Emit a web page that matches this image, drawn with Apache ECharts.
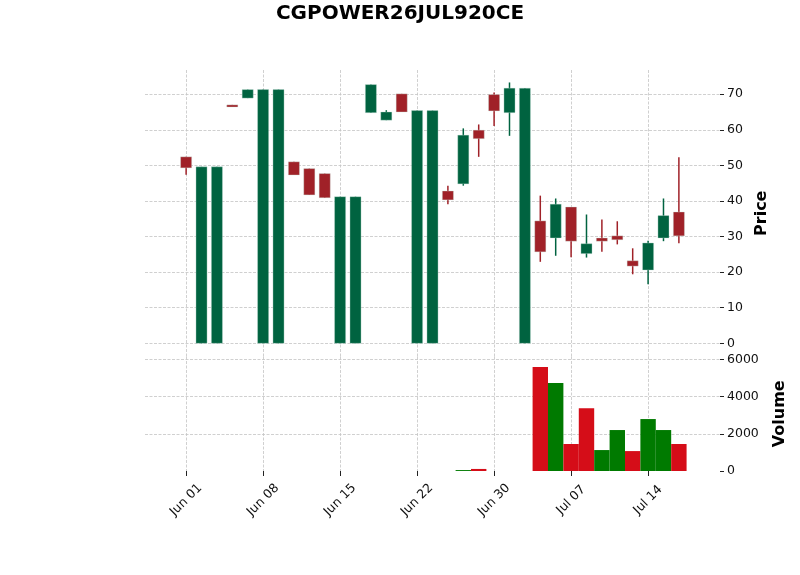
<!DOCTYPE html>
<html>
<head>
<meta charset="utf-8">
<title>CGPOWER26JUL920CE</title>
<script src="https://cdn.jsdelivr.net/npm/echarts@6/dist/echarts.min.js"></script>
<style>
  html, body { margin: 0; padding: 0; background: #fff; }
  #chart { width: 800px; height: 575px; }
</style>
</head>
<body>
<div id="chart"></div>
<script>
// trading days, one candle each
const dates = [
  'Jun 01', 'Jun 02', 'Jun 03', 'Jun 04', 'Jun 05',
  'Jun 08', 'Jun 09', 'Jun 10', 'Jun 11', 'Jun 12',
  'Jun 15', 'Jun 16', 'Jun 17', 'Jun 18', 'Jun 19',
  'Jun 22', 'Jun 23', 'Jun 24', 'Jun 25', 'Jun 26',
  'Jun 30', 'Jul 01', 'Jul 02', 'Jul 03', 'Jul 06',
  'Jul 07', 'Jul 08', 'Jul 09', 'Jul 10', 'Jul 13',
  'Jul 14', 'Jul 15', 'Jul 16',
]
const opens = [
  52.4, 0, 0, 67.0, 68.9, 0, 0, 51.0, 49.1, 47.7,
  0, 0, 64.8, 62.7, 70.1, 0, 0, 42.8, 44.8, 59.9,
  69.9, 64.8, 0, 34.4, 29.6, 38.3, 25.2, 29.6, 30.2, 23.2,
  20.6, 29.6, 36.9,
]
const highs = [
  52.4, 49.6, 49.6, 67.0, 71.3, 71.3, 71.3, 51.0, 49.1, 47.7,
  41.2, 41.2, 72.7, 65.5, 70.1, 65.4, 65.4, 44.3, 60.4, 61.5,
  70.5, 73.3, 71.7, 41.5, 40.7, 38.3, 36.2, 34.8, 34.3, 26.7,
  28.8, 40.7, 52.3,
]
const lows = [
  47.4, 0, 0, 66.4, 68.9, 0, 0, 47.3, 41.7, 40.9,
  0, 0, 64.8, 62.7, 65.0, 0, 0, 39.1, 44.3, 52.4,
  61.1, 58.3, 0, 22.9, 24.6, 24.2, 24.1, 25.7, 27.8, 19.4,
  16.6, 28.7, 28.1,
]
const closes = [
  49.3, 49.6, 49.6, 66.4, 71.3, 71.3, 71.3, 47.3, 41.7, 40.9,
  41.2, 41.2, 72.7, 65.0, 65.0, 65.4, 65.4, 40.3, 58.5, 57.5,
  65.3, 71.7, 71.7, 25.7, 39.1, 28.7, 28.0, 28.7, 29.1, 21.7,
  28.2, 35.9, 30.2,
]
const volumes = [
  0, 0, 0, 0, 0, 0, 0, 0, 0, 0,
  0, 0, 0, 0, 0, 0, 0, 0, 50, 110,
  0, 0, 0, 5590, 4730, 1450, 3375, 1125, 2200, 1070,
  2790, 2200, 1450,
]
const xTickIdx = [0, 5, 10, 15, 20, 25, 30]
const priceTicks = [0, 10, 20, 30, 40, 50, 60, 70]
const volumeTicks = [0, 2000, 4000, 6000]

const upColor = '#006340'
const downColor = '#a02128'
const volUp = '#007a00'
const volDown = '#d50d18'
const font = 'DejaVu Sans'

const candleData = dates.map((d, i) => [i, opens[i], closes[i], lows[i], highs[i]])
// volume colour follows close vs previous close
const volumeData = dates.map((d, i) => [
  i,
  volumes[i],
  i === 0 || closes[i] >= closes[i - 1] ? 1 : 0,
])

function renderCandle(params, api) {
  const i = api.value(0)
  const o = api.value(1)
  const c = api.value(2)
  const color = c >= o ? upColor : downColor
  const w = api.size([1, 0])[0] * 0.72
  const pO = api.coord([i, o])
  const pC = api.coord([i, c])
  const pL = api.coord([i, api.value(3)])
  const pH = api.coord([i, api.value(4)])
  const top = Math.min(pO[1], pC[1])
  const h = Math.max(Math.abs(pO[1] - pC[1]), 1.5)
  return {
    type: 'group',
    children: [
      {
        type: 'line',
        shape: { x1: pH[0], y1: pH[1], x2: pL[0], y2: pL[1] },
        style: { stroke: color, lineWidth: 1.5 },
      },
      {
        type: 'rect',
        shape: { x: pO[0] - w / 2, y: top, width: w, height: h },
        style: { fill: color, stroke: 'rgba(200,225,215,0.6)', lineWidth: 0.6 },
      },
    ],
  }
}

function renderVolume(params, api) {
  const i = api.value(0)
  const v = api.value(1)
  if (!v) return null
  const w = api.size([1, 0])[0]
  const p0 = api.coord([i, 0])
  const p1 = api.coord([i, v])
  return {
    type: 'rect',
    shape: { x: p0[0] - w / 2, y: p1[1], width: w, height: p0[1] - p1[1] },
    style: { fill: api.value(2) ? volUp : volDown },
  }
}

const gridLine = { show: true, lineStyle: { color: '#c4c4c4', width: 0.8, type: [3, 1.5] } }
const tickStyle = { show: true, inside: false, length: 4, lineStyle: { color: '#222', width: 1 } }
const labelStyle = { color: '#111', fontSize: 12.5, fontFamily: font, formatter: (v) => String(v) }
const nameStyle = { color: '#000', fontSize: 16, fontWeight: 'bold', fontFamily: font }
const noLine = { show: false, onZero: false }

const chart = echarts.init(document.getElementById('chart'))
chart.setOption({
  animation: false,
  backgroundColor: '#fff',
  title: {
    text: 'CGPOWER26JUL920CE',
    left: 'center',
    top: -1,
    textStyle: { color: '#000', fontSize: 20, fontWeight: 'bold', fontFamily: font },
  },
  grid: [
    { left: 145, top: 70, width: 575, height: 286.5 },
    { left: 145, top: 356.5, width: 575, height: 114.5 },
  ],
  xAxis: [
    {
      type: 'value',
      gridIndex: 0,
      min: -2.67,
      max: 34.67,
      axisLine: noLine,
      axisTick: { show: false, customValues: xTickIdx },
      axisLabel: { show: false, customValues: xTickIdx },
      splitLine: gridLine,
    },
    {
      type: 'value',
      gridIndex: 1,
      min: -2.67,
      max: 34.67,
      axisLine: noLine,
      axisTick: { ...tickStyle, length: 5, customValues: xTickIdx },
      axisLabel: {
        ...labelStyle,
        customValues: xTickIdx,
        rotate: 45,
        margin: 29,
        align: 'center',
        verticalAlign: 'middle',
        formatter: (v) => dates[Math.round(v)] || '',
      },
      splitLine: gridLine,
    },
  ],
  yAxis: [
    {
      type: 'value',
      gridIndex: 0,
      position: 'right',
      min: -3.7,
      max: 76.8,
      name: 'Price',
      nameLocation: 'middle',
      nameRotate: 90,
      nameGap: 34,
      nameTextStyle: nameStyle,
      axisLine: noLine,
      axisTick: { ...tickStyle, customValues: priceTicks },
      axisLabel: { ...labelStyle, customValues: priceTicks, margin: 7 },
      splitLine: gridLine,
    },
    {
      type: 'value',
      gridIndex: 1,
      position: 'right',
      min: 0,
      max: 6150,
      name: 'Volume',
      nameLocation: 'middle',
      nameRotate: 90,
      nameGap: 52,
      nameTextStyle: nameStyle,
      axisLine: noLine,
      axisTick: { ...tickStyle, customValues: volumeTicks },
      axisLabel: { ...labelStyle, customValues: volumeTicks, margin: 7 },
      splitLine: { ...gridLine, showMinLine: false },
    },
  ],
  series: [
    {
      name: 'Price',
      type: 'custom',
      xAxisIndex: 0,
      yAxisIndex: 0,
      renderItem: renderCandle,
      encode: { x: 0, y: [1, 2, 3, 4] },
      data: candleData,
      z: 3,
    },
    {
      name: 'Volume',
      type: 'custom',
      xAxisIndex: 1,
      yAxisIndex: 1,
      renderItem: renderVolume,
      encode: { x: 0, y: 1 },
      data: volumeData,
      z: 3,
    },
  ],
})
</script>
</body>
</html>
